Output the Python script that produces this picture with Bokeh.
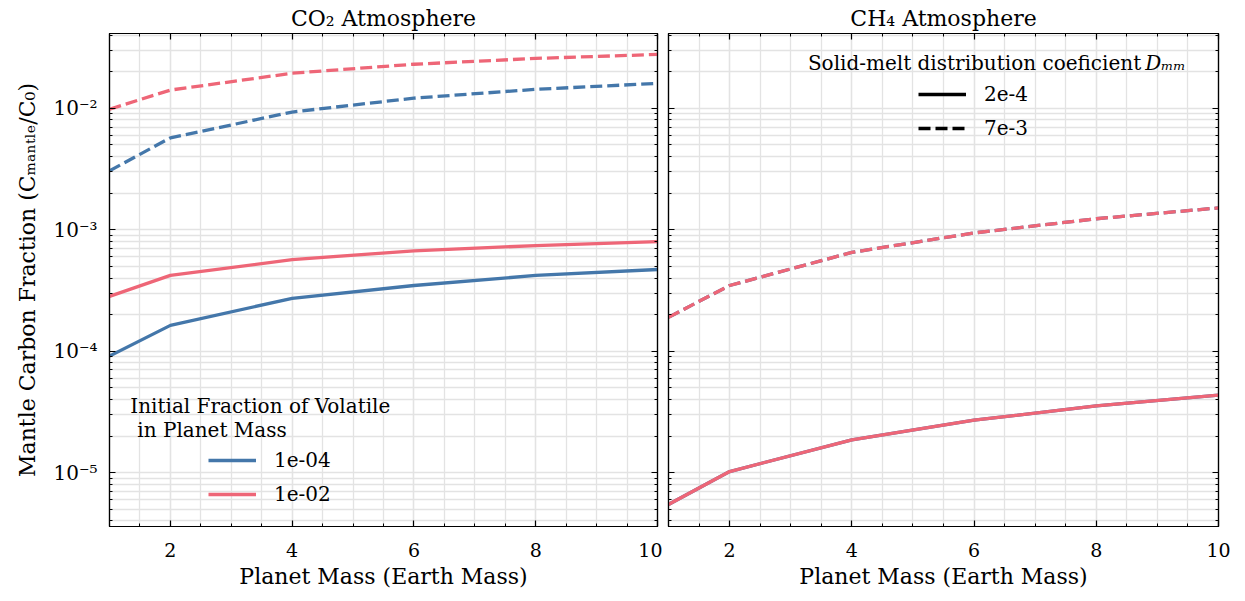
import numpy as np
from bokeh.plotting import figure
from bokeh.layouts import row
from bokeh.models import (FixedTicker, LogAxis, LinearAxis, Range1d, Legend, LegendItem,
                          Label, CustomJSTickFormatter)
from bokeh.embed import file_html
from bokeh.resources import INLINE

# ---------------- data ----------------
mass = [1, 2, 4, 6, 8, 10]
co2_f1e4_D2e4 = [9.1e-5, 1.63e-4, 2.72e-4, 3.47e-4, 4.2e-4, 4.7e-4]
co2_f1e2_D2e4 = [2.82e-4, 4.2e-4, 5.67e-4, 6.7e-4, 7.4e-4, 7.97e-4]
co2_f1e4_D7e3 = [3.05e-3, 5.7e-3, 9.3e-3, 1.21e-2, 1.43e-2, 1.6e-2]
co2_f1e2_D7e3 = [9.8e-3, 1.41e-2, 1.94e-2, 2.3e-2, 2.57e-2, 2.77e-2]
ch4_f1e4_D2e4 = [5.47e-6, 1.02e-5, 1.86e-5, 2.7e-5, 3.54e-5, 4.35e-5]
ch4_f1e2_D2e4 = [5.47e-6, 1.02e-5, 1.86e-5, 2.7e-5, 3.54e-5, 4.35e-5]
ch4_f1e4_D7e3 = [1.9e-4, 3.47e-4, 6.5e-4, 9.4e-4, 1.23e-3, 1.51e-3]
ch4_f1e2_D7e3 = [1.9e-4, 3.47e-4, 6.5e-4, 9.4e-4, 1.23e-3, 1.51e-3]

fraction_labels = ["1e-04", "1e-02"]
D_labels = ["2e-4", "7e-3"]
x_major = [2, 4, 6, 8, 10]
y_major = [1e-5, 1e-4, 1e-3, 1e-2]

BLUE = "#4477AA"
RED = "#EE6677"
FONT = "DejaVu Serif"
GRID = "#e3e3e3"

x_minor = [1 + 0.5 * i for i in range(19)]
y_minor = [m * 10.0 ** e for e in range(-6, -1) for m in range(2, 10)]

fmt = CustomJSTickFormatter(code="""
const sup = {'-':'\u207b','0':'\u2070','1':'\u00b9','2':'\u00b2','3':'\u00b3','4':'\u2074','5':'\u2075','6':'\u2076','7':'\u2077','8':'\u2078','9':'\u2079'};
const e = Math.round(Math.log10(tick));
return '10' + String(e).split('').map(c => sup[c]).join('');
""")
blank = CustomJSTickFormatter(code="return '';")


def style(p, show_ylabels):
    xt = FixedTicker(ticks=x_major, minor_ticks=x_minor)
    yt = FixedTicker(ticks=y_major, minor_ticks=y_minor)
    bottom = p.below[0]
    left = p.left[0]
    bottom.ticker = xt
    left.ticker = yt
    p.xgrid.ticker = xt
    p.ygrid.ticker = yt
    for g in (p.xgrid, p.ygrid):
        g.grid_line_color = GRID
        g.grid_line_width = 1.3
        g.minor_grid_line_color = GRID
        g.minor_grid_line_width = 1.3
    p.outline_line_color = "black"
    p.outline_line_width = 1.2
    top = LinearAxis(ticker=xt, formatter=blank)
    right = LogAxis(ticker=yt, formatter=blank)
    p.add_layout(top, "above")
    p.add_layout(right, "right")
    for ax in (bottom, left, top, right):
        ax.axis_line_color = "black"
        ax.axis_line_width = 1.2
        ax.major_tick_in = 6
        ax.major_tick_out = 0
        ax.minor_tick_in = 3
        ax.minor_tick_out = 0
        ax.major_tick_line_color = "black"
        ax.minor_tick_line_color = "black"
        ax.major_tick_line_width = 1.2
        ax.minor_tick_line_width = 1
        ax.major_label_text_font = FONT
        ax.major_label_text_font_size = "19px"
        ax.major_label_text_color = "black"
        ax.axis_label_text_font = FONT
        ax.axis_label_text_font_size = "22px"
        ax.axis_label_text_font_style = "normal"
        ax.axis_label_text_color = "black"
    for ax in (top, right):
        ax.major_label_standoff = 0
    bottom.axis_label = "Planet Mass (Earth Mass)"
    bottom.major_label_standoff = 16
    bottom.axis_label_standoff = 4
    if show_ylabels:
        left.formatter = fmt
        left.axis_label = "Mantle Carbon Fraction (C\u2098\u2090\u2099\u209c\u2097\u2091/C\u2080)"
        left.major_label_text_font_size = "20px"
        left.major_label_standoff = 12
        left.axis_label_standoff = 10
    else:
        left.formatter = blank
        left.major_label_standoff = 0
    p.title.text_font = FONT
    p.title.text_font_size = "22px"
    p.title.text_font_style = "normal"
    p.title.text_color = "black"
    p.title.align = "center"
    p.title.offset = 0
    p.title.standoff = 6


xr = (1, 10)
yr = (3.6e-6, 4.12e-2)

p1 = figure(width=662, height=601, x_range=Range1d(*xr), y_range=Range1d(*yr),
            y_axis_type="log", output_backend="svg", toolbar_location=None,
            title="CO\u2082 Atmosphere",
            min_border_left=109, min_border_right=5, min_border_top=32, min_border_bottom=75)
p2 = figure(width=583, height=601, x_range=Range1d(*xr), y_range=Range1d(*yr),
            y_axis_type="log", output_backend="svg", toolbar_location=None,
            title="CH\u2084 Atmosphere",
            min_border_left=6, min_border_right=27, min_border_top=32, min_border_bottom=75)
style(p1, True)
style(p2, False)

LW = 3.3
DASH = "12 5"

# left panel
b_s = p1.line(mass, co2_f1e4_D2e4, color=BLUE, line_width=LW)
r_s = p1.line(mass, co2_f1e2_D2e4, color=RED, line_width=LW)
p1.line(mass, co2_f1e4_D7e3, color=BLUE, line_width=LW, line_dash=DASH)
p1.line(mass, co2_f1e2_D7e3, color=RED, line_width=LW, line_dash=DASH)

# right panel
p2.line(mass, ch4_f1e4_D2e4, color=BLUE, line_width=LW)
p2.line(mass, ch4_f1e2_D2e4, color=RED, line_width=LW)
p2.line(mass, ch4_f1e4_D7e3, color=BLUE, line_width=LW, line_dash=DASH)
p2.line(mass, ch4_f1e2_D7e3, color=RED, line_width=LW, line_dash=DASH)

k_s = p2.line([20], [1e-3], color="black", line_width=LW)
k_d = p2.line([20], [1e-3], color="black", line_width=LW, line_dash=DASH)


def make_legend(items, loc):
    lg = Legend(items=items, location=loc, orientation="vertical",
                glyph_width=48, glyph_height=22, spacing=10, label_standoff=18,
                padding=0, margin=0, border_line_color=None,
                background_fill_alpha=0, label_text_font=FONT,
                label_text_color="black",
                label_text_font_size="20px", label_height=22)
    return lg


lg1 = make_legend([LegendItem(label=fraction_labels[0], renderers=[b_s]),
                   LegendItem(label=fraction_labels[1], renderers=[r_s])], (99, 20))
p1.add_layout(lg1)
lg2 = make_legend([LegendItem(label=D_labels[0], renderers=[k_s]),
                   LegendItem(label=D_labels[1], renderers=[k_d])], (250, 386))
p2.add_layout(lg2)

LBL = dict(text_font=FONT, text_font_size="20px", text_baseline="middle", text_color="black")
p1.add_layout(Label(x=1.342, y=3.54e-5, text="Initial Fraction of Volatile", **LBL))
p1.add_layout(Label(x=1.457, y=2.25e-5, text="in Planet Mass", **LBL))
p2.add_layout(Label(x=8.735, y=2.34e-2, text="Solid-melt distribution coeficient",
                    text_align="right", **LBL))
p2.add_layout(Label(x=8.80, y=2.34e-2, text="D\u2098\u2098",
                    text_font_style="italic", **LBL))

layout = row(p1, p2)
open("out.html", "w").write(file_html(layout, INLINE))
